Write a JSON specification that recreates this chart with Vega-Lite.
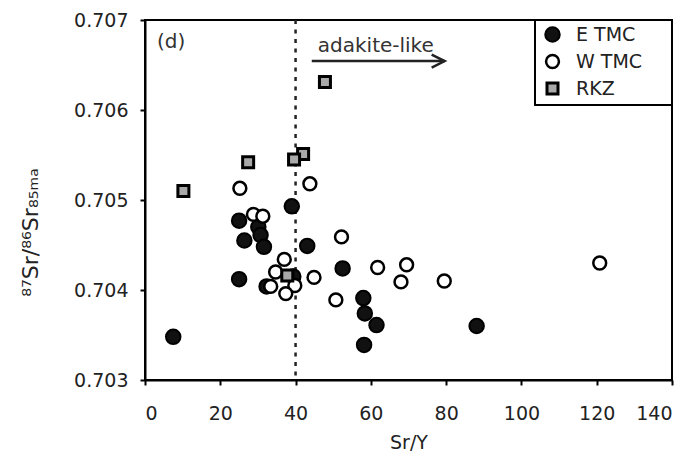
{
  "$schema": "https://vega.github.io/schema/vega-lite/v6.json",
  "width": 527,
  "height": 360,
  "autosize": {"type": "none"},
  "padding": {"left": 145, "top": 20, "right": 17, "bottom": 75},
  "background": "white",
  "config": {
    "font": "DejaVu Sans",
    "view": {"stroke": "#000", "strokeWidth": 2},
    "axis": {
      "grid": false,
      "domainColor": "#000",
      "domainWidth": 2,
      "tickColor": "#000",
      "tickWidth": 2,
      "tickSize": 5,
      "labelFont": "DejaVu Sans",
      "labelFontSize": 19,
      "labelColor": "#222",
      "titleFont": "DejaVu Sans",
      "titleFontWeight": "normal",
      "titleColor": "#222"
    },
    "legend": {
      "orient": "top-right",
      "offset": 0,
      "strokeColor": "#000",
      "strokeWidth": 2,
      "fillColor": "white",
      "padding": 5,
      "rowPadding": 4,
      "symbolOffset": 3,
      "labelFont": "DejaVu Sans",
      "labelFontSize": 19,
      "labelColor": "#222",
      "labelOffset": 14
    }
  },
  "datasets": {
    "samples": [
      {"group": "E TMC", "srY": 39.0, "sr": 0.70493},
      {"group": "E TMC", "srY": 25.0, "sr": 0.70477},
      {"group": "E TMC", "srY": 30.1, "sr": 0.70470},
      {"group": "E TMC", "srY": 30.7, "sr": 0.70461},
      {"group": "E TMC", "srY": 26.4, "sr": 0.70455},
      {"group": "E TMC", "srY": 31.6, "sr": 0.70448},
      {"group": "E TMC", "srY": 43.1, "sr": 0.70449},
      {"group": "E TMC", "srY": 39.4, "sr": 0.70415},
      {"group": "E TMC", "srY": 25.0, "sr": 0.70412},
      {"group": "E TMC", "srY": 32.3, "sr": 0.70404},
      {"group": "E TMC", "srY": 52.5, "sr": 0.70424},
      {"group": "E TMC", "srY": 58.0, "sr": 0.70391},
      {"group": "E TMC", "srY": 58.4, "sr": 0.70374},
      {"group": "E TMC", "srY": 61.5, "sr": 0.70361},
      {"group": "E TMC", "srY": 58.2, "sr": 0.70339},
      {"group": "E TMC", "srY": 88.1, "sr": 0.70360},
      {"group": "E TMC", "srY": 7.5, "sr": 0.70348},
      {"group": "W TMC", "srY": 25.2, "sr": 0.70513},
      {"group": "W TMC", "srY": 43.8, "sr": 0.70518},
      {"group": "W TMC", "srY": 28.8, "sr": 0.70484},
      {"group": "W TMC", "srY": 31.3, "sr": 0.70482},
      {"group": "W TMC", "srY": 52.2, "sr": 0.70459},
      {"group": "W TMC", "srY": 37.0, "sr": 0.70434},
      {"group": "W TMC", "srY": 34.7, "sr": 0.70420},
      {"group": "W TMC", "srY": 44.9, "sr": 0.70414},
      {"group": "W TMC", "srY": 33.4, "sr": 0.70404},
      {"group": "W TMC", "srY": 39.8, "sr": 0.70405},
      {"group": "W TMC", "srY": 37.4, "sr": 0.70396},
      {"group": "W TMC", "srY": 50.7, "sr": 0.70389},
      {"group": "W TMC", "srY": 61.8, "sr": 0.70425},
      {"group": "W TMC", "srY": 69.5, "sr": 0.70428},
      {"group": "W TMC", "srY": 68.0, "sr": 0.70409},
      {"group": "W TMC", "srY": 79.5, "sr": 0.70410},
      {"group": "W TMC", "srY": 120.8, "sr": 0.70430},
      {"group": "RKZ", "srY": 47.8, "sr": 0.70631},
      {"group": "RKZ", "srY": 42.0, "sr": 0.70551},
      {"group": "RKZ", "srY": 39.6, "sr": 0.70545},
      {"group": "RKZ", "srY": 27.4, "sr": 0.70542},
      {"group": "RKZ", "srY": 10.2, "sr": 0.70510},
      {"group": "RKZ", "srY": 37.8, "sr": 0.70416}
    ],
    "threshold": [{"srY": 40}],
    "arrow": [{"start": 44.3, "end": 79.6, "sr": 0.706544}],
    "labels": [
      {"text": "(d)", "srY": 3.2, "sr": 0.706756},
      {"text": "adakite-like", "srY": 45.9, "sr": 0.706711}
    ]
  },
  "encoding": {
    "x": {
      "type": "quantitative",
      "scale": {"domain": [0, 140], "nice": false, "zero": false},
      "axis": {
        "title": "Sr/Y",
        "titleFontSize": 19,
        "titleBaseline": "middle",
        "titleY": 62,
        "values": [0, 20, 40, 60, 80, 100, 120, 140],
        "labelPadding": 19
      }
    },
    "y": {
      "type": "quantitative",
      "scale": {"domain": [0.703, 0.707], "nice": false, "zero": false},
      "axis": {
        "title": "⁸⁷Sr/⁸⁶Sr₈₅ₘₐ",
        "titleFontSize": 22,
        "titleAngle": -90,
        "titleAlign": "center",
        "titleBaseline": "middle",
        "titleX": -115,
        "titleY": 212,
        "values": [0.703, 0.704, 0.705, 0.706, 0.707],
        "format": ".3f",
        "labelPadding": 12
      }
    }
  },
  "layer": [
    {
      "data": {"name": "threshold"},
      "mark": {"type": "rule", "color": "#222", "strokeWidth": 2.5, "strokeDash": [4, 5.5]},
      "encoding": {"x": {"field": "srY"}}
    },
    {
      "data": {"name": "arrow"},
      "mark": {"type": "rule", "color": "#222", "strokeWidth": 2.5},
      "encoding": {
        "x": {"field": "start"},
        "x2": {"field": "end"},
        "y": {"field": "sr"}
      }
    },
    {
      "data": {"name": "arrow"},
      "mark": {
        "type": "point",
        "shape": "M-1,-0.5L0,0L-1,0.5",
        "filled": false,
        "size": 676,
        "stroke": "#222",
        "strokeWidth": 2.5,
        "opacity": 1
      },
      "encoding": {
        "x": {"field": "end"},
        "y": {"field": "sr"}
      }
    },
    {
      "data": {"name": "labels"},
      "mark": {"type": "text", "align": "left", "baseline": "middle", "fontSize": 20, "color": "#333"},
      "encoding": {
        "x": {"field": "srY"},
        "y": {"field": "sr"},
        "text": {"field": "text"}
      }
    },
    {
      "data": {"name": "samples"},
      "mark": {"type": "point", "filled": true, "opacity": 1, "stroke": "#000"},
      "encoding": {
        "x": {"field": "srY"},
        "y": {"field": "sr"},
        "shape": {
          "field": "group",
          "type": "nominal",
          "scale": {"domain": ["E TMC", "W TMC", "RKZ"], "range": ["circle", "circle", "square"]},
          "legend": {"title": null, "labelExpr": "datum.label + '\u00a0\u00a0\u00a0\u00a0\u200b'"}
        },
        "fill": {
          "field": "group",
          "type": "nominal",
          "scale": {"domain": ["E TMC", "W TMC", "RKZ"], "range": ["#111111", "#ffffff", "#a9a9a9"]},
          "legend": {"title": null, "labelExpr": "datum.label + '\u00a0\u00a0\u00a0\u00a0\u200b'"}
        },
        "size": {
          "field": "group",
          "type": "nominal",
          "scale": {"domain": ["E TMC", "W TMC", "RKZ"], "range": [210, 121, 100]},
          "legend": {"title": null, "labelExpr": "datum.label + '\u00a0\u00a0\u00a0\u00a0\u200b'"}
        },
        "strokeWidth": {
          "field": "group",
          "type": "nominal",
          "scale": {"domain": ["E TMC", "W TMC", "RKZ"], "range": [2, 3, 2.5]},
          "legend": {"title": null, "labelExpr": "datum.label + '\u00a0\u00a0\u00a0\u00a0\u200b'"}
        }
      }
    }
  ]
}
